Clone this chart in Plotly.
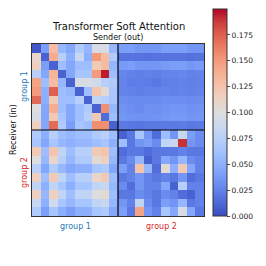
import plotly.graph_objects as go

title_text = "Transformer Soft Attention"
xlabel_text = "Sender (out)"
ylabel_text = "Receiver (in)"
group_labels = ["group 1", "group 2"]
group_colors = ["#1f77b4", "#d62728"]
cbar_ticks = [0.0, 0.025, 0.05, 0.075, 0.1, 0.125, 0.15, 0.175]

# top-left: group1 receivers <- group1 senders
g11 = [
    [0.005, 0.040, 0.130, 0.055, 0.045, 0.070, 0.055, 0.095, 0.095, 0.055],
    [0.110, 0.010, 0.140, 0.075, 0.050, 0.085, 0.050, 0.150, 0.130, 0.070],
    [0.115, 0.040, 0.010, 0.060, 0.045, 0.060, 0.060, 0.120, 0.130, 0.055],
    [0.075, 0.045, 0.135, 0.010, 0.045, 0.065, 0.065, 0.150, 0.195, 0.060],
    [0.145, 0.060, 0.130, 0.055, 0.010, 0.095, 0.095, 0.090, 0.075, 0.070],
    [0.150, 0.050, 0.175, 0.060, 0.055, 0.010, 0.060, 0.125, 0.105, 0.065],
    [0.170, 0.050, 0.120, 0.060, 0.060, 0.075, 0.010, 0.080, 0.075, 0.065],
    [0.100, 0.045, 0.140, 0.060, 0.045, 0.060, 0.070, 0.010, 0.155, 0.055],
    [0.095, 0.045, 0.120, 0.065, 0.045, 0.060, 0.075, 0.120, 0.015, 0.060],
    [0.115, 0.045, 0.170, 0.070, 0.040, 0.065, 0.060, 0.155, 0.155, 0.010],
]
# top-right: group1 receivers <- group2 senders
g12 = [
    [0.040, 0.040, 0.035, 0.035, 0.035, 0.040, 0.040, 0.040, 0.035, 0.035],
    [0.018, 0.018, 0.018, 0.017, 0.018, 0.018, 0.018, 0.018, 0.017, 0.018],
    [0.038, 0.040, 0.036, 0.035, 0.036, 0.038, 0.040, 0.040, 0.036, 0.038],
    [0.027, 0.025, 0.024, 0.025, 0.024, 0.026, 0.026, 0.027, 0.025, 0.026],
    [0.026, 0.022, 0.023, 0.022, 0.020, 0.024, 0.024, 0.025, 0.024, 0.025],
    [0.026, 0.025, 0.024, 0.025, 0.025, 0.026, 0.025, 0.026, 0.025, 0.026],
    [0.031, 0.030, 0.029, 0.030, 0.029, 0.031, 0.031, 0.032, 0.030, 0.031],
    [0.034, 0.032, 0.030, 0.033, 0.032, 0.034, 0.035, 0.035, 0.033, 0.034],
    [0.036, 0.034, 0.033, 0.034, 0.034, 0.036, 0.037, 0.037, 0.035, 0.036],
    [0.021, 0.020, 0.019, 0.020, 0.020, 0.021, 0.021, 0.022, 0.020, 0.021],
]
# bottom-left: group2 receivers <- group1 senders
g21 = [
    [0.070, 0.050, 0.075, 0.060, 0.055, 0.060, 0.060, 0.070, 0.075, 0.060],
    [0.065, 0.045, 0.065, 0.055, 0.050, 0.055, 0.055, 0.060, 0.065, 0.050],
    [0.120, 0.060, 0.125, 0.080, 0.060, 0.075, 0.075, 0.120, 0.125, 0.060],
    [0.100, 0.055, 0.110, 0.075, 0.055, 0.070, 0.070, 0.105, 0.115, 0.055],
    [0.075, 0.045, 0.070, 0.055, 0.045, 0.050, 0.050, 0.065, 0.070, 0.045],
    [0.115, 0.060, 0.120, 0.080, 0.060, 0.075, 0.075, 0.110, 0.120, 0.060],
    [0.080, 0.050, 0.080, 0.065, 0.050, 0.065, 0.065, 0.080, 0.085, 0.055],
    [0.115, 0.055, 0.115, 0.080, 0.060, 0.080, 0.080, 0.100, 0.105, 0.060],
    [0.085, 0.050, 0.090, 0.065, 0.055, 0.065, 0.065, 0.080, 0.085, 0.055],
    [0.070, 0.040, 0.065, 0.050, 0.040, 0.050, 0.050, 0.065, 0.070, 0.045],
]
# bottom-right: group2 receivers <- group2 senders
g22 = [
    [0.010, 0.020, 0.065, 0.035, 0.015, 0.060, 0.035, 0.085, 0.040, 0.030],
    [0.060, 0.020, 0.035, 0.040, 0.030, 0.080, 0.085, 0.190, 0.035, 0.030],
    [0.015, 0.020, 0.020, 0.015, 0.020, 0.020, 0.020, 0.025, 0.020, 0.020],
    [0.020, 0.030, 0.055, 0.010, 0.020, 0.045, 0.035, 0.055, 0.030, 0.025],
    [0.040, 0.025, 0.125, 0.055, 0.015, 0.105, 0.050, 0.120, 0.045, 0.025],
    [0.020, 0.025, 0.035, 0.025, 0.020, 0.025, 0.020, 0.035, 0.015, 0.020],
    [0.030, 0.015, 0.035, 0.025, 0.025, 0.045, 0.010, 0.075, 0.025, 0.025],
    [0.020, 0.020, 0.030, 0.025, 0.020, 0.030, 0.025, 0.015, 0.010, 0.025],
    [0.035, 0.025, 0.080, 0.030, 0.020, 0.040, 0.035, 0.055, 0.020, 0.025],
    [0.040, 0.020, 0.145, 0.035, 0.025, 0.065, 0.045, 0.095, 0.045, 0.020],
]

z = [a + b for a, b in zip(g11, g12)] + [a + b for a, b in zip(g21, g22)]
n = len(z)
half = len(g11)

coolwarm = [
    [0.0, "rgb(59,76,192)"], [0.0625, "rgb(77,104,215)"], [0.125, "rgb(98,130,234)"],
    [0.1875, "rgb(119,154,247)"], [0.25, "rgb(141,176,254)"], [0.3125, "rgb(163,194,255)"],
    [0.375, "rgb(184,208,249)"], [0.4375, "rgb(204,217,238)"], [0.5, "rgb(221,221,221)"],
    [0.5625, "rgb(236,211,197)"], [0.625, "rgb(245,196,172)"], [0.6875, "rgb(247,177,147)"],
    [0.75, "rgb(244,154,123)"], [0.8125, "rgb(236,127,99)"], [0.875, "rgb(222,96,78)"],
    [0.9375, "rgb(203,62,58)"], [1.0, "rgb(180,4,38)"],
]

fig = go.Figure(go.Heatmap(
    z=z, x=list(range(n)), y=list(range(n)),
    colorscale=coolwarm, zmin=0, zmax=0.2,
    colorbar=dict(
        thickness=14, len=207 / 172, lenmode="fraction",
        x=(213 - 32) / 172, xanchor="left", y=0, yanchor="bottom",
        xpad=0, ypad=0, outlinewidth=1, outlinecolor="#333",
        tickvals=cbar_ticks, tickformat=".3f", ticks="outside", ticklen=3,
        tickfont=dict(family="DejaVu Sans", size=7.5, color="#222"),
    ),
    showscale=True,
))

fig.update_xaxes(showticklabels=False, ticks="", showgrid=False, zeroline=False,
                 range=[-0.5, n - 0.5], showline=True, linecolor="#333", linewidth=1, mirror=True)
fig.update_yaxes(showticklabels=False, ticks="", showgrid=False, zeroline=False,
                 range=[n - 0.5, -0.5], showline=True, linecolor="#333", linewidth=1, mirror=True)

b = half - 0.5
fig.add_shape(type="line", x0=b, x1=b, y0=-0.5, y1=n - 0.5, line=dict(color="black", width=1.2))
fig.add_shape(type="line", x0=-0.5, x1=n - 0.5, y0=b, y1=b, line=dict(color="black", width=1.2))

def py(Y):
    return (216 - Y) / 172

def px(X):
    return (X - 32) / 172

ann = [
    dict(text=title_text, x=px(118), y=py(26), font=dict(size=10, color="#111")),
    dict(text=xlabel_text, x=px(118), y=py(38), font=dict(size=8, color="#111")),
    dict(text=group_labels[0], x=px(75), y=py(226), font=dict(size=8, color=group_colors[0])),
    dict(text=group_labels[1], x=px(161), y=py(226), font=dict(size=8, color=group_colors[1])),
    dict(text=group_labels[0], x=px(24), y=py(87), textangle=-90, font=dict(size=8, color=group_colors[0])),
    dict(text=group_labels[1], x=px(24), y=py(173), textangle=-90, font=dict(size=8, color=group_colors[1])),
    dict(text=ylabel_text, x=px(13), y=py(130), textangle=-90, font=dict(size=8, color="#111")),
]
for a in ann:
    a.update(xref="paper", yref="paper", showarrow=False, xanchor="center", yanchor="middle")
    a["font"]["family"] = "DejaVu Sans"
    fig.add_annotation(**a)

fig.update_layout(
    width=266, height=266,
    margin=dict(l=32, r=62, t=44, b=50, autoexpand=False),
    paper_bgcolor="white", plot_bgcolor="white",
)

fig.write_html(
    "out.html",
    config={"displayModeBar": False, "staticPlot": True},
    post_script="document.body.style.margin='0';document.body.style.overflow='hidden';",
)
